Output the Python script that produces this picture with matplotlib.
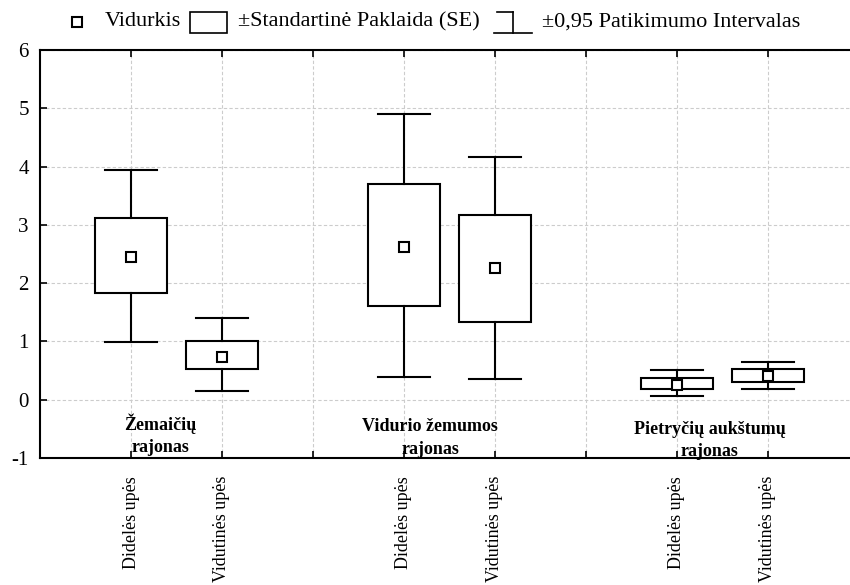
import matplotlib
matplotlib.use('Agg')
from matplotlib import pyplot as plt
from matplotlib.patches import Rectangle
from matplotlib.lines import Line2D

plt.rcParams['font.family'] = ['Liberation Serif', 'DejaVu Serif']
plt.rcParams['axes.unicode_minus'] = False

# pozicijos ir duomenys
pos = [1, 2, 4, 5, 7, 8]
labels = ['Didelės upės', 'Vidutinės upės'] * 3
mean = [2.45, 0.74, 2.62, 2.26, 0.26, 0.41]
se_lo = [1.83, 0.53, 1.61, 1.34, 0.19, 0.31]
se_hi = [3.12, 1.01, 3.70, 3.17, 0.38, 0.53]
ci_lo = [0.99, 0.15, 0.39, 0.36, 0.07, 0.19]
ci_hi = [3.94, 1.40, 4.91, 4.16, 0.51, 0.65]

groups = ['Žemaičių\nrajonas', 'Vidurio žemumos\nrajonas', 'Pietryčių aukštumų\nrajonas']
group_x = [1.32, 4.29, 7.36]
group_y = [-0.60, -0.65, -0.70]

legend_txt = ['Vidurkis', '±Standartinė Paklaida (SE)', '±0,95 Patikimumo Intervalas']

W, H = 850, 585
f = plt.figure(figsize=(W/100, H/100), dpi=100)
ax = f.add_axes([40/W, 127/H, 819/W, 408/H])

ax.set_xlim(0, 9)
ax.set_ylim(-1, 6)
ax.set_xticks(range(1, 9))
ax.set_xticklabels([labels[pos.index(i)] if i in pos else '' for i in range(1, 9)],
                   rotation=90, va='top', ha='center', fontsize=13)
ax.set_yticks(range(-1, 7))
ax.tick_params(axis='x', direction='in', length=5, width=1.2, pad=13,
               top=True, bottom=True)
ax.tick_params(axis='y', direction='in', length=5, width=1.2, pad=8,
               labelsize=15)
for s in ['left', 'top', 'bottom']:
    ax.spines[s].set_linewidth(1.5)
ax.spines['right'].set_visible(False)

ax.grid(True, color='#cccccc', linestyle=(0, (3, 2)), linewidth=0.8)
ax.set_axisbelow(True)

bw = 0.8
cw = 0.285
for x, m, a, b, c, d in zip(pos, mean, se_lo, se_hi, ci_lo, ci_hi):
    ax.add_patch(Rectangle((x - bw/2, a), bw, b - a, facecolor='white',
                           edgecolor='black', linewidth=1.5, zorder=3))
    ax.plot([x, x], [c, a], color='black', lw=1.5, zorder=3)
    ax.plot([x, x], [b, d], color='black', lw=1.5, zorder=3)
    ax.plot([x - cw, x + cw], [c, c], color='black', lw=1.5, zorder=3)
    ax.plot([x - cw, x + cw], [d, d], color='black', lw=1.5, zorder=3)
    ax.plot(x, m, marker='s', ms=7, mfc='white', mec='black', mew=1.5, zorder=4)

for g, gx, gy in zip(groups, group_x, group_y):
    ax.text(gx, gy, g, ha='center', va='center', fontsize=13,
            fontweight='bold', linespacing=1.45)

# legenda (rankiniu budu, pikseliais)
def fx(x):
    return x / W

def fy(y):
    return 1 - y / H

tr = f.transFigure
f.add_artist(Line2D([fx(77)], [fy(22)], marker='s', ls='none', ms=6.5,
                    mfc='white', mec='black', mew=1.5, transform=tr))
f.text(fx(105), fy(22), legend_txt[0], fontsize=16, va='center', ha='left')
f.add_artist(Rectangle((fx(190), fy(33)), 37/W, 21/H, facecolor='white',
                       edgecolor='black', linewidth=1.2, transform=tr))
f.text(fx(238), fy(22), legend_txt[1], fontsize=16, va='center', ha='left')
f.add_artist(Line2D([fx(513), fx(513)], [fy(12), fy(33)], color='black', lw=1.2, transform=tr))
f.add_artist(Line2D([fx(494), fx(532)], [fy(33), fy(33)], color='black', lw=1.2, transform=tr))
f.add_artist(Line2D([fx(497), fx(513)], [fy(12), fy(12)], color='black', lw=1.2, transform=tr))
f.text(fx(542), fy(22), legend_txt[2], fontsize=16, va='center', ha='left')

f.savefig('out.png', dpi=100)
print('done')
